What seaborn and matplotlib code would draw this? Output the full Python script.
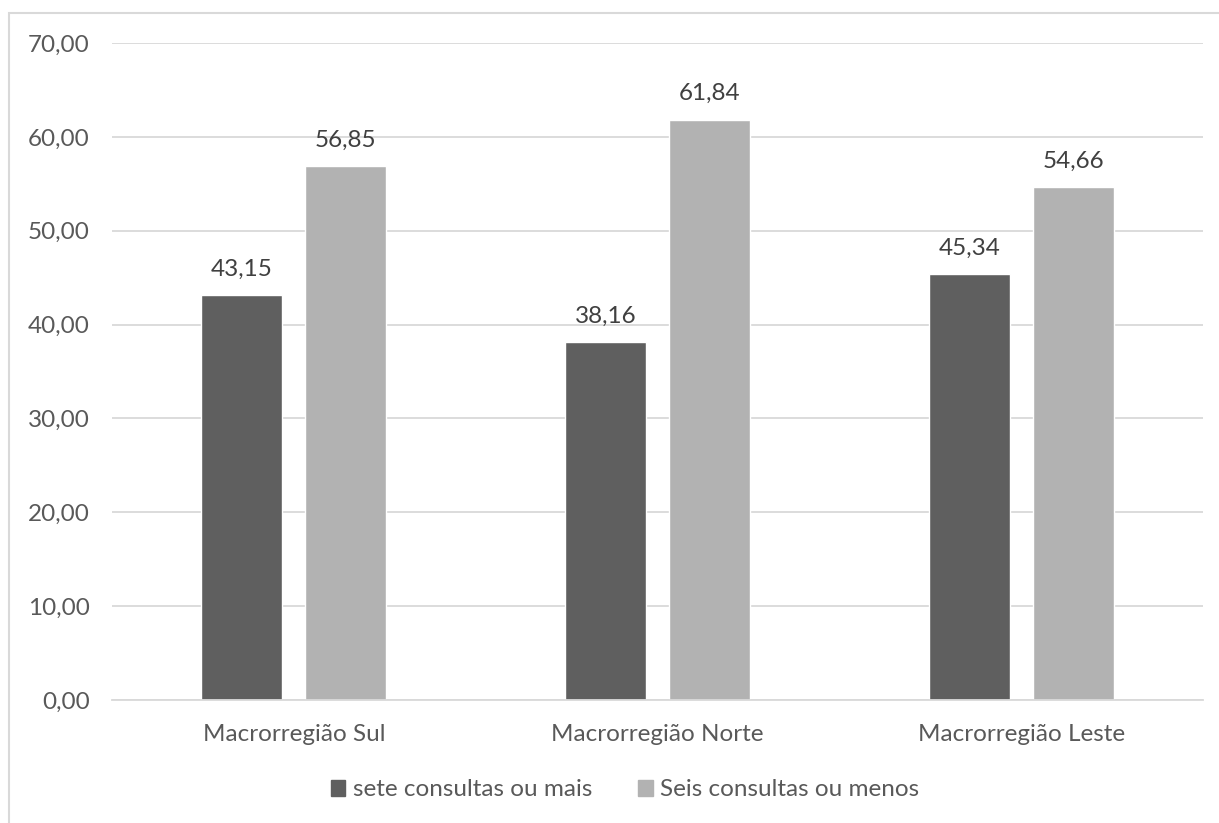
import matplotlib
matplotlib.use("Agg")
import matplotlib.pyplot as plt
from matplotlib.patches import Rectangle
import seaborn as sns
import pandas as pd

regions = ["Macrorregião Sul", "Macrorregião Norte", "Macrorregião Leste"]
series_names = ["sete consultas ou mais", "Seis consultas ou menos"]
sete_ou_mais = [43.15, 38.16, 45.34]
seis_ou_menos = [56.85, 61.84, 54.66]
y_ticks = [0, 10, 20, 30, 40, 50, 60, 70]

df = pd.DataFrame({
    "regiao": regions * 2,
    "serie": [series_names[0]] * 3 + [series_names[1]] * 3,
    "valor": sete_ou_mais + seis_ou_menos,
})

sns.set_theme(style="white")
plt.rcParams["font.family"] = ["Lato", "DejaVu Sans"]
text_color = "#595959"
fs = 17.5
palette = {series_names[0]: "#5f5f5f", series_names[1]: "#b2b2b2"}

fig = plt.figure(figsize=(12.19, 8.23), dpi=100)
ax = fig.add_axes([112 / 1219, 1 - 700 / 823, (1203 - 112) / 1219, (700 - 43) / 823])

sns.barplot(data=df, x="regiao", y="valor", hue="serie", palette=palette,
            width=0.572, gap=0.22, saturation=1, ax=ax, legend=False)

for container in ax.containers:
    ax.bar_label(container, labels=[f"{v:.2f}".replace(".", ",") for v in container.datavalues],
                 padding=11, fontsize=fs, color="#404040")

ax.set_ylim(0, 70)
ax.set_xlim(-0.5, 2.5)
ax.set_yticks(y_ticks)
ax.set_yticklabels([f"{t:.2f}".replace(".", ",") for t in y_ticks], fontsize=fs, color=text_color)
ax.tick_params(axis="x", labelsize=fs, colors=text_color, pad=17, length=0)
ax.tick_params(axis="y", pad=16, length=0)
for lbl in ax.get_xticklabels():
    lbl.set_color(text_color)
ax.set_xlabel("")
ax.set_ylabel("")
ax.yaxis.grid(True, color="#d9d9d9", linewidth=1.3)
ax.set_axisbelow(True)
for side in ["top", "right", "left"]:
    ax.spines[side].set_visible(False)
ax.spines["bottom"].set_color("#d9d9d9")
ax.spines["bottom"].set_linewidth(1.3)

# outer chart frame
fig.patches.append(Rectangle((9 / 1219, -0.1), 1.2, 1 - 13 / 823 + 0.1, transform=fig.transFigure,
                             fill=False, edgecolor="#d9d9d9", linewidth=1.5))

handles = [Rectangle((0, 0), 1, 1, color=palette[s]) for s in series_names]
fig.legend(handles, series_names, loc="center", bbox_to_anchor=(625 / 1219, 1 - 790 / 823),
           ncol=2, frameon=False, fontsize=fs, labelcolor=text_color,
           handlelength=0.6, handleheight=0.6, handletextpad=0.3, columnspacing=1.9)

fig.savefig("out.png", dpi=100)
